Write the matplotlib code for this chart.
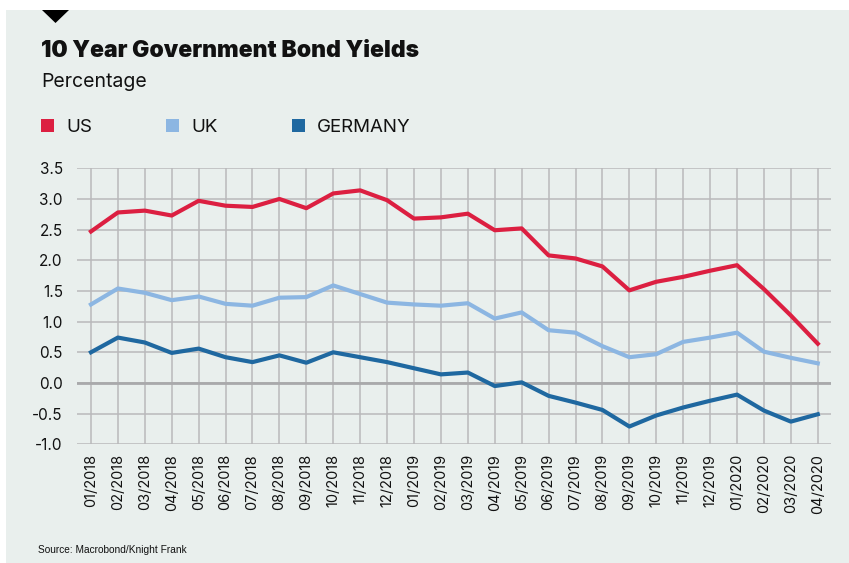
import matplotlib
matplotlib.use('Agg')
import matplotlib.pyplot as plt
from matplotlib.patches import Rectangle, Polygon

# data
months = ['01/2018', '02/2018', '03/2018', '04/2018', '05/2018', '06/2018', '07/2018',
          '08/2018', '09/2018', '10/2018', '11/2018', '12/2018', '01/2019', '02/2019',
          '03/2019', '04/2019', '05/2019', '06/2019', '07/2019', '08/2019', '09/2019',
          '10/2019', '11/2019', '12/2019', '01/2020', '02/2020', '03/2020', '04/2020']
us = [2.47, 2.78, 2.81, 2.73, 2.97, 2.89, 2.87, 3.00, 2.85, 3.09, 3.14, 2.98, 2.68, 2.70,
      2.76, 2.49, 2.52, 2.08, 2.03, 1.90, 1.51, 1.65, 1.73, 1.83, 1.92, 1.53, 1.10, 0.64]
uk = [1.28, 1.54, 1.47, 1.35, 1.41, 1.29, 1.26, 1.39, 1.40, 1.59, 1.45, 1.31, 1.28, 1.26,
      1.30, 1.05, 1.15, 0.86, 0.82, 0.60, 0.42, 0.47, 0.67, 0.74, 0.82, 0.51, 0.41, 0.32]
germany = [0.50, 0.74, 0.66, 0.49, 0.56, 0.42, 0.34, 0.45, 0.33, 0.50, 0.42, 0.34, 0.24, 0.14,
           0.17, -0.05, 0.01, -0.21, -0.32, -0.44, -0.71, -0.53, -0.40, -0.29, -0.19, -0.45,
           -0.63, -0.51]
yticks = [-1.0, -0.5, 0.0, 0.5, 1.0, 1.5, 2.0, 2.5, 3.0, 3.5]

series = [('US', us, '#dc1f41'), ('UK', uk, '#8cb6e2'), ('GERMANY', germany, '#1f68a0')]

plt.rcParams['font.family'] = ['Inter', 'DejaVu Sans']
BG = '#e9efed'
W, H = 849, 563

fig = plt.figure(figsize=(W / 100, H / 100), dpi=100)
fig.patch.set_facecolor('white')
# background panel
fig.patches.append(Rectangle((6 / W, 0), 1 - 6 / W, 1 - 10 / H, transform=fig.transFigure,
                             facecolor=BG, edgecolor='none', zorder=-5))
# black marker triangle
fig.patches.append(Polygon([(42 / W, 1 - 10 / H), (69 / W, 1 - 10 / H), (55.5 / W, 1 - 23 / H)],
                           closed=True, transform=fig.transFigure, facecolor='black',
                           edgecolor='none', zorder=1))

ax = fig.add_axes([76.7 / W, 1 - 444.3 / H, (830.7 - 76.7) / W, (444.3 - 168.3) / H])
ax.set_facecolor(BG)
x = list(range(len(months)))

for name, vals, col in series:
    ax.plot(x, vals, color=col, lw=3.0, zorder=3)

ax.axhline(0, color='#a9a9ab', lw=2.0, zorder=2)
ax.set_xlim(-0.53, len(months) - 1 + 0.48)
ax.set_ylim(-1.0, 3.5)
ax.set_yticks(yticks)
ax.set_yticklabels(['%.1f' % v for v in yticks])
ax.set_xticks(x)
ax.set_xticklabels(months, rotation=90)
ax.grid(True, color='#b9b9bb', lw=1.1, zorder=1)
ax.set_axisbelow(True)
for s in ax.spines.values():
    s.set_visible(False)
ax.tick_params(axis='both', length=0, labelsize=10.5, colors='#111111')
ax.tick_params(axis='y', pad=10, labelsize=11)
ax.tick_params(axis='x', pad=7)

# titles
fig.text(41 / W, 1 - 57 / H, '10 Year Government Bond Yields', fontsize=16.5,
         fontweight='black', color='#111111', va='baseline')
fig.text(41 / W, 1 - 87 / H, 'Percentage', fontsize=14, color='#111111', va='baseline')

# legend
for (name, vals, col), lx in zip(series, [41, 166, 292]):
    fig.patches.append(Rectangle((lx / W, 1 - 132 / H), 13 / W, 13 / H,
                                 transform=fig.transFigure, facecolor=col,
                                 edgecolor='none', zorder=2))
    fig.text((lx + 25) / W, 1 - 132 / H, name, fontsize=13.5, color='#111111',
             va='baseline')

fig.text(38 / W, 1 - 553 / H, 'Source: Macrobond/Knight Frank', fontsize=7.3,
         color='#111111', family=['Liberation Sans', 'DejaVu Sans'],
         va='baseline')

fig.savefig('out.png', dpi=100, facecolor=fig.get_facecolor())
